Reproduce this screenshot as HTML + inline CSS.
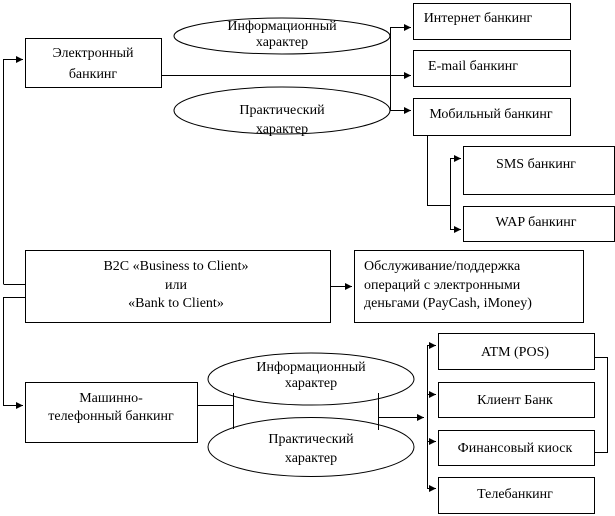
<!DOCTYPE html>
<html><head><meta charset="utf-8"><style>
html,body{margin:0;padding:0;background:#fff;}
svg{display:block;}
text{font-family:"Liberation Serif","DejaVu Serif",serif;font-size:14px;fill:#000;}
</style></head><body>
<svg width="615" height="516" viewBox="0 0 615 516" xmlns="http://www.w3.org/2000/svg">
<defs><marker id="a" markerWidth="8" markerHeight="8" refX="7" refY="4" orient="auto" markerUnits="userSpaceOnUse"><path d="M0,0.5 L7,4 L0,7.5 Z" fill="#000"/></marker></defs>
<g fill="none" stroke="#000" stroke-width="1">
<rect x="25.5" y="38.5" width="136" height="49" fill="#fff"/>
<ellipse cx="282" cy="36" rx="108" ry="18"/>
<ellipse cx="282" cy="110.5" rx="108" ry="23.5"/>
<rect x="413.5" y="3.5" width="157" height="36"/>
<rect x="413.5" y="50.5" width="157" height="36"/>
<rect x="413.5" y="98.5" width="157" height="37"/>
<rect x="463.5" y="146.5" width="151" height="48"/>
<rect x="463.5" y="206.5" width="151" height="35"/>
<rect x="25.5" y="250.5" width="305" height="72"/>
<rect x="354.5" y="250.5" width="229" height="72"/>
<rect x="25.5" y="382.5" width="172" height="60"/>
<ellipse cx="311" cy="379" rx="103" ry="26"/>
<ellipse cx="311" cy="447" rx="103" ry="29.5"/>
<rect x="438.5" y="333.5" width="156" height="36"/>
<rect x="438.5" y="382.5" width="156" height="35"/>
<rect x="438.5" y="430.5" width="156" height="35"/>
<rect x="438.5" y="477.5" width="156" height="36"/>
<polyline points="3.5,284 3.5,59.5 23,59.5" marker-end="url(#a)"/>
<line x1="3.5" y1="284.5" x2="25" y2="284.5"/>
<polyline points="25,297.5 3.5,297.5 3.5,405.5 23,405.5" marker-end="url(#a)"/>
<line x1="161" y1="75.5" x2="411" y2="75.5" marker-end="url(#a)"/>
<polyline points="411,27.5 390.5,27.5 390.5,110.5 411,110.5" marker-end="url(#a)"/>
<line x1="390.5" y1="27.5" x2="411" y2="27.5" marker-end="url(#a)"/>
<polyline points="427.5,136 427.5,205.5 450.5,205.5"/>
<polyline points="461,158.5 450.5,158.5 450.5,229.5 461,229.5" marker-end="url(#a)"/>
<line x1="450.5" y1="158.5" x2="461" y2="158.5" marker-end="url(#a)"/>
<line x1="331" y1="286.5" x2="352" y2="286.5" marker-end="url(#a)"/>
<line x1="198" y1="405.5" x2="233.5" y2="405.5"/>
<line x1="233.5" y1="393" x2="233.5" y2="429"/>
<line x1="378.5" y1="393" x2="378.5" y2="430"/>
<line x1="378.5" y1="417.5" x2="424" y2="417.5" marker-end="url(#a)"/>
<line x1="427.5" y1="345" x2="427.5" y2="489"/>
<line x1="427.5" y1="345.5" x2="436" y2="345.5" marker-end="url(#a)"/>
<line x1="427.5" y1="394.5" x2="436" y2="394.5" marker-end="url(#a)"/>
<line x1="427.5" y1="441.5" x2="436" y2="441.5" marker-end="url(#a)"/>
<line x1="427.5" y1="488.5" x2="436" y2="488.5" marker-end="url(#a)"/>
<polyline points="595,357.5 607.5,357.5 607.5,452.5 595,452.5"/>
</g>
<g text-anchor="middle">
<text x="93" y="57">Электронный</text>
<text x="93" y="78">банкинг</text>
<text x="282" y="30">Информационный</text>
<text x="282" y="46">характер</text>
<text x="282" y="114">Практический</text>
<text x="282" y="133">характер</text>
<text x="478" y="22">Интернет банкинг</text>
<text x="473" y="70">E-mail  банкинг</text>
<text x="491" y="118">Мобильный  банкинг</text>
<text x="536" y="168">SMS банкинг</text>
<text x="536" y="226">WAP банкинг</text>
<text x="176" y="270">B2C   «Business  to Client»</text>
<text x="176" y="289">или</text>
<text x="176" y="307">«Bank  to Client»</text>
<text x="311" y="371">Информационный</text>
<text x="311" y="387">характер</text>
<text x="311" y="443">Практический</text>
<text x="311" y="462">характер</text>
<text x="111" y="402">Машинно-</text>
<text x="111" y="420">телефонный банкинг</text>
<text x="515" y="356">ATM (POS)</text>
<text x="515" y="404">Клиент Банк</text>
<text x="515" y="452">Финансовый киоск</text>
<text x="515" y="498">Телебанкинг</text>
</g>
<text x="364" y="270">Обслуживание/поддержка</text>
<text x="364" y="289">операций с электронными</text>
<text x="364" y="307">деньгами (PayCash,  iMoney)</text>
</svg>
</body></html>
